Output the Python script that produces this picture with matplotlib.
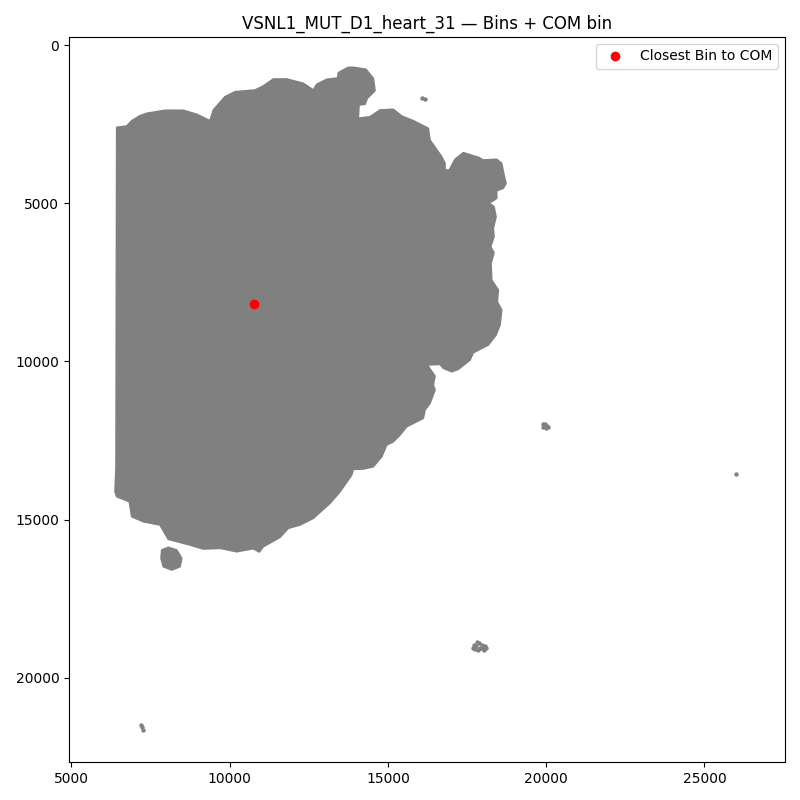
import matplotlib
matplotlib.use('Agg')
import matplotlib.pyplot as plt

# Outline of the main tissue section
tissue_x = [6429, 6745, 6903, 7165, 7377, 7955, 8533, 8957, 9377, 9481, 9851, 10167, 10799, 11061, 11377, 11801,
            12325, 12641, 12749, 13065, 13412, 13431, 13747, 13905, 14307, 14537, 14591, 14348, 14275, 14085, 14063,
            14433, 14749, 15169, 15435, 15801, 16275, 16329, 16699, 16803, 16803, 16939, 17119, 17381, 17855, 18013,
            18437, 18595, 18667, 18731, 18645, 18437, 18437, 18279, 18152, 18351, 18415, 18329, 18351, 18247, 18351,
            18257, 18279, 18487, 18456, 18595, 18541, 18415, 18171, 17697, 17593, 17223, 17015, 16749, 16645, 16244,
            16487, 16433, 16487, 16329, 16171, 16117, 15593, 15381, 15169, 14961, 14803, 14537, 14221, 13905, 13855,
            13485, 13169, 12641, 12221, 11851, 11589, 11061, 10935, 10745, 10221, 9693, 9165, 8745, 8059, 7797,
            7269, 6903, 6827, 6429, 6375, 6407]
tissue_y = [2601, 2560, 2392, 2234, 2158, 2063, 2063, 2190, 2392, 2054, 1634, 1476, 1422, 1296, 1074, 1074,
            1210, 1422, 1242, 1084, 1043, 875, 705, 705, 768, 1052, 1444, 1684, 1874, 1896, 2316,
            2266, 2054, 2032, 2244, 2392, 2632, 3002, 3530, 3738, 3950, 3950, 3612, 3403, 3549, 3634,
            3612, 3738, 4108, 4370, 4528, 4604, 4844, 4952, 4952, 5110, 5426, 5792, 6058, 6374, 6563,
            6898, 7426, 7742, 8112, 8374, 8848, 9164, 9480, 9723, 9954, 10248, 10324, 10216, 10090, 10112,
            10460, 10744, 10902, 11322, 11534, 11796, 12062, 12324, 12536, 12640, 13010, 13326, 13398, 13408, 13588,
            14116, 14482, 14956, 15168, 15272, 15557, 15854, 16021, 15917, 16012, 15904, 15926, 15800, 15620, 15168,
            15064, 14906, 14432, 14274, 14116, 13326]

# Small piece below the main section
blob_x = [7851, 8059, 8325, 8483, 8429, 8167, 7901, 7829]
blob_y = [15958, 15873, 15958, 16220, 16486, 16590, 16486, 16220]

# Stray bins
stray_x = [16080, 16160, 19900, 19960, 20030, 19900, 19980, 20060, 26010, 7190, 7220, 7250,
           17720, 17800, 17880, 17960, 18060, 17700, 17760, 17860, 17990, 18100, 17780, 17900, 18020]
stray_y = [1690, 1710, 11990, 11980, 12030, 12070, 12090, 12060, 13560, 21490, 21560, 21630,
           18950, 18880, 18900, 18960, 18990, 19040, 19090, 19110, 19080, 19070, 19000, 19050, 19130]

com_x = 10780
com_y = 8170

fig, ax = plt.subplots(figsize=(8, 8), dpi=100)
ax.fill(tissue_x, tissue_y, facecolor='gray', edgecolor='gray', linewidth=1.2, joinstyle='round')
ax.fill(blob_x, blob_y, facecolor='gray', edgecolor='gray', linewidth=1.2, joinstyle='round')
ax.scatter(stray_x, stray_y, s=10, color='gray', linewidths=0)
ax.plot(com_x, com_y, 'o', color='red', markersize=6, label='Closest Bin to COM')

ax.set_xlim(4921, 27547)
ax.set_ylim(22657, -253)
ax.set_xticks([5000, 10000, 15000, 20000, 25000])
ax.set_yticks([0, 5000, 10000, 15000, 20000])
ax.set_title('VSNL1_MUT_D1_heart_31 — Bins + COM bin')
ax.legend(loc='upper right')

fig.subplots_adjust(left=0.08625, right=0.98125, top=0.95375, bottom=0.0475)
fig.savefig('out.png', dpi=100)
